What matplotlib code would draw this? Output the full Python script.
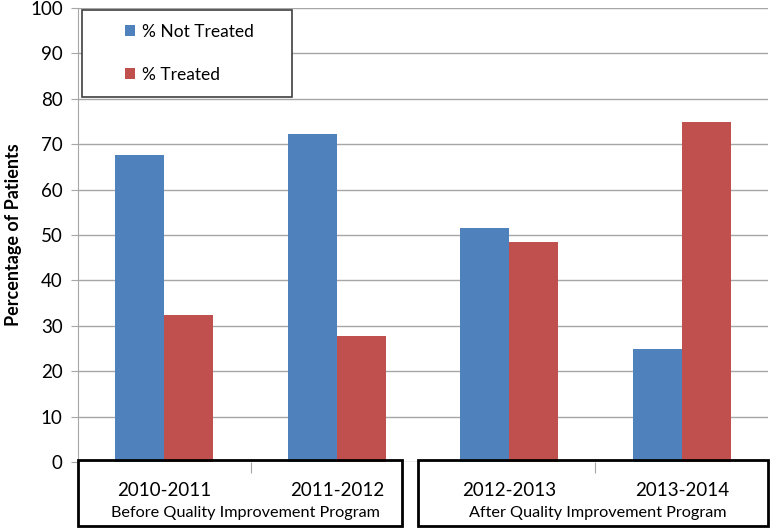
import matplotlib
matplotlib.use("Agg")
import matplotlib.pyplot as plt
from matplotlib.patches import Rectangle
import numpy as np

# ─── Data ────────────────────────────────────────────────────────────────────
years = ["2010-2011", "2011-2012", "2012-2013", "2013-2014"]
not_treated = [67.6, 72.2, 51.5, 25.0]
treated = [32.4, 27.8, 48.5, 75.0]
period_labels = ["Before Quality Improvement Program",
                 "After Quality Improvement Program"]
y_ticks = [0, 10, 20, 30, 40, 50, 60, 70, 80, 90, 100]

BLUE = "#4f81bd"
RED = "#c0504d"
GRID = "#a6a6a6"

plt.rcParams["font.family"] = ["Lato", "DejaVu Sans"]

fig = plt.figure(figsize=(7.74, 5.30), dpi=100)
ax = fig.add_axes([0.1008, 0.1283, 0.8914, 0.8566])

x = np.arange(len(years))
w = 0.284
ax.bar(x - w / 2, not_treated, w, color=BLUE, label="% Not Treated", zorder=3)
ax.bar(x + w / 2, treated, w, color=RED, label="% Treated", zorder=3)

ax.set_xlim(-0.5, len(years) - 0.5)
ax.set_ylim(0, 100)
ax.set_yticks(y_ticks)
ax.tick_params(axis="y", labelsize=13.5, length=5, color=GRID, pad=6)
ax.yaxis.grid(True, color=GRID, linewidth=1, zorder=0)
ax.set_xticks([0.5, 2.5])
ax.set_xticklabels([])
ax.tick_params(axis="x", length=8, color=GRID, direction="out")

for s in ["top", "right", "bottom"]:
    ax.spines[s].set_visible(False)
ax.spines["left"].set_color(GRID)

ax.set_ylabel("Percentage of Patients", fontsize=13, fontweight="bold", labelpad=6)

# legend inside a framed box
ax.add_patch(Rectangle((0.0058, 0.804), 0.304, 0.192, transform=ax.transAxes,
                       facecolor="white", edgecolor="#404040", linewidth=1.2,
                       zorder=4))
leg = ax.legend(loc="center left", bbox_to_anchor=(0.055, 0.90), frameon=False,
                fontsize=12.5, handlelength=0.6, handleheight=0.6,
                handletextpad=0.4, labelspacing=1.55, borderpad=0)
leg.set_zorder(5)

# category boxes below the axis
trans = ax.get_xaxis_transform()
boxes = [(-0.5, 1.38), (1.47, 3.5)]
for (x0, x1), lab in zip(boxes, period_labels):
    ax.add_patch(Rectangle((x0, -0.141), x1 - x0, 0.145, transform=trans,
                           facecolor="none", edgecolor="black", linewidth=2,
                           clip_on=False, zorder=6))
    ax.text((x0 + x1) / 2 + 0.03, -0.112, lab, transform=trans,
            ha="center", va="center", fontsize=11.7)

for xi, yr in zip(x, years):
    ax.text(xi, -0.062, yr, transform=trans, ha="center", va="center",
            fontsize=13.5)

fig.savefig("out.png", dpi=100)
